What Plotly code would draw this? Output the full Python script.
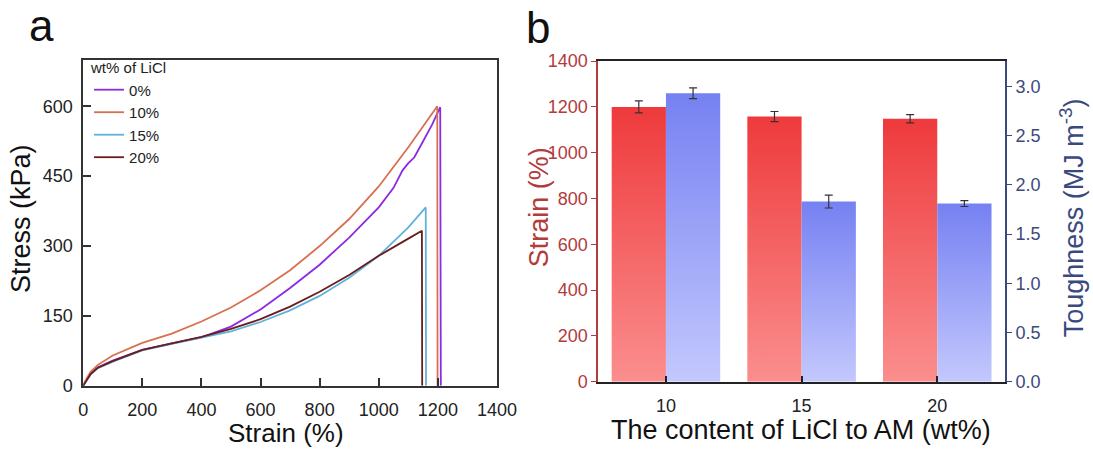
import plotly.graph_objects as go

# ---------------- Panel a data ----------------
strain_0 = [0, 10, 25, 50, 100, 200, 300, 400, 500, 600, 700, 800, 900, 1000, 1050, 1080, 1100, 1120, 1150, 1180, 1208, 1210]
stress_0 = [0, 12, 26, 40, 54, 77, 91, 104, 127, 164, 210, 260, 318, 383, 425, 462, 478, 490, 525, 560, 598, 0]

strain_10 = [0, 10, 25, 50, 100, 200, 300, 400, 500, 600, 700, 800, 900, 1000, 1100, 1198, 1199]
stress_10 = [0, 14, 30, 45, 65, 92, 112, 138, 168, 205, 248, 300, 358, 428, 512, 600, 0]

strain_15 = [0, 10, 25, 50, 100, 200, 300, 400, 500, 600, 700, 800, 900, 1000, 1100, 1159, 1160]
stress_15 = [0, 11, 24, 38, 52, 76, 90, 103, 117, 137, 162, 193, 232, 279, 340, 383, 0]

strain_20 = [0, 10, 25, 50, 100, 200, 300, 400, 500, 600, 700, 800, 900, 1000, 1100, 1146, 1147]
stress_20 = [0, 11, 25, 39, 53, 77, 91, 105, 122, 143, 170, 202, 238, 279, 316, 333, 0]

series_names = ["0%", "10%", "15%", "20%"]
series_colors = ["#8a2be2", "#d8704e", "#5fb3d9", "#6b1c1c"]

# ---------------- Panel b data ----------------
licl_content = ["10", "15", "20"]
strain_vals = [1200, 1158, 1148]
strain_err = [26, 22, 18]
tough_vals = [2.93, 1.83, 1.81]
tough_err = [0.055, 0.065, 0.03]

FONT = "Liberation Sans, Arial, sans-serif"
RED_AX = "#b23b3b"
BLUE_AX = "#3b4a7e"

fig = go.Figure()

# Panel a curves
for sx, sy, nm, col in zip([strain_0, strain_10, strain_15, strain_20],
                           [stress_0, stress_10, stress_15, stress_20],
                           series_names, series_colors):
    fig.add_trace(go.Scatter(x=sx, y=sy, mode="lines", name=nm,
                             line=dict(color=col, width=1.8),
                             xaxis="x", yaxis="y", showlegend=True))

# Panel b bars drawn as gradient-filled areas
BW = 0.4
for i, v in enumerate(strain_vals):
    x0, x1 = i - BW, i
    fig.add_trace(go.Scatter(
        x=[x0, x0, x1, x1, x0], y=[0, v, v, 0, 0], mode="lines",
        line=dict(width=0, color="rgba(0,0,0,0)"), fill="toself",
        fillgradient=dict(type="vertical",
                          colorscale=[[0, "#fb8e8e"], [1, "#ee3a3c"]]),
        xaxis="x2", yaxis="y2", showlegend=False, hoverinfo="skip"))
for i, v in enumerate(tough_vals):
    x0, x1 = i, i + BW
    fig.add_trace(go.Scatter(
        x=[x0, x0, x1, x1, x0], y=[0, v, v, 0, 0], mode="lines",
        line=dict(width=0, color="rgba(0,0,0,0)"), fill="toself",
        fillgradient=dict(type="vertical",
                          colorscale=[[0, "#c3c8fd"], [1, "#7681f2"]]),
        xaxis="x2", yaxis="y3", showlegend=False, hoverinfo="skip"))

# error bars
fig.add_trace(go.Scatter(
    x=[i - BW / 2 for i in range(len(strain_vals))], y=strain_vals, mode="markers",
    marker=dict(size=1, color="rgba(0,0,0,0)"),
    error_y=dict(type="data", array=strain_err, color="#333333", thickness=1.2, width=4),
    xaxis="x2", yaxis="y2", showlegend=False, hoverinfo="skip"))
fig.add_trace(go.Scatter(
    x=[i + BW / 2 for i in range(len(tough_vals))], y=tough_vals, mode="markers",
    marker=dict(size=1, color="rgba(0,0,0,0)"),
    error_y=dict(type="data", array=tough_err, color="#333333", thickness=1.2, width=4),
    xaxis="x2", yaxis="y3", showlegend=False, hoverinfo="skip"))

W, H = 1093, 450
def px(xp):
    return xp / W
def py(yp):
    return (H - yp) / H

tickfont = dict(family=FONT, size=18, color="#222222")

fig.update_layout(
    width=W, height=H, margin=dict(l=0, r=0, t=0, b=0),
    paper_bgcolor="white", plot_bgcolor="white",
    font=dict(family=FONT, color="#222222"),
    xaxis=dict(domain=[px(80), px(503.5)], range=[0, 1400], tickvals=[0, 200, 400, 600, 800, 1000, 1200, 1400],
               ticks="inside", ticklen=8, tickwidth=1.5, tickcolor="#333333", ticklabelstandoff=7,
               showline=True, linecolor="#333333", linewidth=1.5, mirror=True,
               showgrid=False, zeroline=False, tickfont=tickfont, anchor="y"),
    yaxis=dict(domain=[py(393.3), py(52)], range=[0, 700], tickvals=[0, 150, 300, 450, 600],
               ticks="inside", ticklen=8, tickwidth=1.5, tickcolor="#333333", ticklabelstandoff=5,
               showline=True, linecolor="#333333", linewidth=1.5, mirror=True,
               showgrid=False, zeroline=False, tickfont=tickfont, anchor="x"),
    xaxis2=dict(domain=[px(607), px(1023.5)], range=[-0.5, 2.5], tickvals=[0, 1, 2], ticktext=licl_content,
                ticks="inside", ticklen=6, tickwidth=1.5, tickcolor="#222222", ticklabelstandoff=7,
                showline=True, linecolor="#222222", linewidth=1.5, mirror=True,
                showgrid=False, zeroline=False, tickfont=tickfont, anchor="y2"),
    yaxis2=dict(domain=[py(389), py(53.5)], range=[0, 1400], dtick=200,
                ticks="outside", ticklen=5, tickwidth=1.2, tickcolor=RED_AX,
                showline=True, linecolor=RED_AX, linewidth=1.5,
                showgrid=False, zeroline=False,
                tickfont=dict(family=FONT, size=18, color=RED_AX), anchor="x2"),
    yaxis3=dict(range=[0, 3.257], tickvals=[0, 0.5, 1, 1.5, 2, 2.5, 3], tickformat=".1f",
                overlaying="y2", side="right", anchor="x2",
                ticks="outside", ticklen=5, tickwidth=1.2, tickcolor=BLUE_AX,
                showline=True, linecolor=BLUE_AX, linewidth=1.5,
                showgrid=False, zeroline=False,
                tickfont=dict(family=FONT, size=18, color=BLUE_AX)),
    legend=dict(x=px(86), y=py(46), xanchor="left", yanchor="top",
                bgcolor="rgba(0,0,0,0)", borderwidth=0,
                font=dict(family=FONT, size=15, color="#222222"),
                title=dict(text="wt% of LiCl", font=dict(family=FONT, size=15, color="#222222")),
                tracegroupgap=0),
    showlegend=True,
)

annots = [
    dict(text="a", x=px(37), y=py(16), font=dict(family=FONT, size=44, color="#111111")),
    dict(text="b", x=px(545), y=py(18), font=dict(family=FONT, size=44, color="#111111")),
    dict(text="Strain (%)", x=px(288), y=py(443), font=dict(family=FONT, size=26, color="#111111")),
    dict(text="Stress (kPa)", x=px(17), y=py(218), textangle=-90, font=dict(family=FONT, size=27, color="#111111")),
    dict(text="Strain (%)", x=px(546), y=py(207), textangle=-90, font=dict(family=FONT, size=27, color=RED_AX)),
    dict(text="Toughness (MJ m<sup>-3</sup>)", x=px(1092), y=py(218), textangle=-90,
         font=dict(family=FONT, size=27, color=BLUE_AX)),
    dict(text="The content of LiCl to AM (wt%)", x=px(815), y=py(440), font=dict(family=FONT, size=27, color="#111111")),
]
for a in annots:
    fig.add_annotation(xref="paper", yref="paper", showarrow=False, xanchor="center", yanchor="middle", **a)

fig.write_html("out.html")
